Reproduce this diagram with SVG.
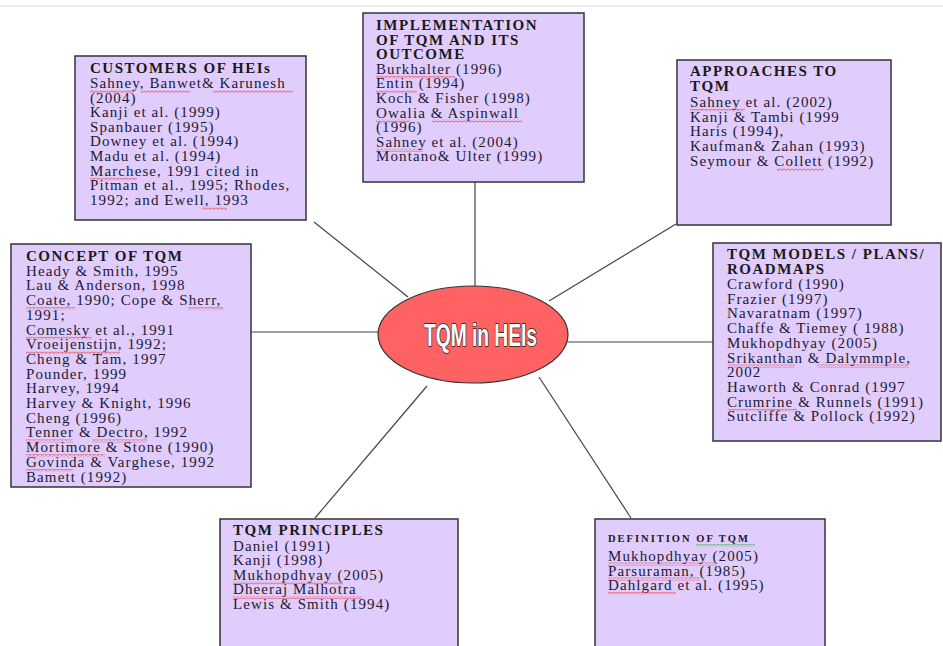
<svg xmlns="http://www.w3.org/2000/svg" width="943" height="646" viewBox="0 0 943 646">
<style>
.box{fill:#e1cdfd;stroke:#333;stroke-width:1.5}
.t{font-family:"Liberation Serif","Times New Roman",serif;font-size:15px;letter-spacing:1.1px;fill:#1c1a33}
.h{font-family:"Liberation Serif","Times New Roman",serif;font-size:15px;font-weight:bold;letter-spacing:1.5px;fill:#1a1a1a}
.hs{font-family:"Liberation Serif","Times New Roman",serif;font-size:10.5px;font-weight:bold;letter-spacing:2px;fill:#1a1a1a}
.sq{fill:url(#wave)}
.sg{fill:url(#waveg)}
.c{stroke:#444;stroke-width:1.2;fill:none}
</style>
<defs>
<pattern id="wave" width="4" height="3" patternUnits="userSpaceOnUse">
<path d="M0,0.5 L2,2.5 L4,0.5" stroke="#e02020" stroke-width="0.8" fill="none"/>
</pattern>
<pattern id="waveg" width="4" height="3" patternUnits="userSpaceOnUse">
<path d="M0,0.5 L2,2.5 L4,0.5" stroke="#20a020" stroke-width="0.8" fill="none"/>
</pattern>
</defs>
<rect width="943" height="646" fill="#fff"/>
<line x1="0" y1="6" x2="943" y2="6" stroke="#d8d8d8" stroke-width="1"/>

<g id="connectors">
<line class="c" x1="314" y1="222" x2="408" y2="297"/>
<line class="c" x1="475" y1="182" x2="475" y2="286"/>
<line class="c" x1="676" y1="224" x2="549" y2="301"/>
<line class="c" x1="251" y1="332" x2="378" y2="332"/>
<line class="c" x1="567" y1="342" x2="713" y2="342"/>
<line class="c" x1="427" y1="386" x2="315" y2="518"/>
<line class="c" x1="539" y1="377" x2="631" y2="518"/>
</g>

<g id="customers">
<rect class="box" x="75" y="56" width="231" height="164"/>
<text class="h" x="90" y="73">CUSTOMERS OF HEIs</text>
<text class="t" x="90" y="88">Sahney, Banwet&amp; Karunesh</text>
<text class="t" x="90" y="102.6">(2004)</text>
<text class="t" x="90" y="117.2">Kanji et al. (1999)</text>
<text class="t" x="90" y="131.8">Spanbauer (1995)</text>
<text class="t" x="90" y="146.4">Downey et al. (1994)</text>
<text class="t" x="90" y="161">Madu et al. (1994)</text>
<text class="t" x="90" y="175.6">Marchese, 1991 cited in</text>
<text class="t" x="90" y="190.2">Pitman et al., 1995; Rhodes,</text>
<text class="t" x="90" y="204.8">1992; and Ewell, 1993</text>
<rect class="sq" x="90" y="90" width="44" height="3"/>
<rect class="sq" x="141" y="90" width="49" height="3"/>
<rect class="sq" x="213" y="90" width="80" height="3"/>
<rect class="sq" x="90" y="177.6" width="47" height="3"/>
<rect class="sq" x="202" y="206.8" width="25" height="3"/>
</g>

<g id="implementation">
<rect class="box" x="363" y="13" width="221" height="169"/>
<text class="h" x="376" y="30">IMPLEMENTATION</text>
<text class="h" x="376" y="44.6">OF TQM AND ITS</text>
<text class="h" x="376" y="59.2">OUTCOME</text>
<text class="t" x="376" y="73.8">Burkhalter (1996)</text>
<text class="t" x="376" y="88.4">Entin (1994)</text>
<text class="t" x="376" y="103">Koch &amp; Fisher (1998)</text>
<text class="t" x="376" y="117.6">Owalia &amp; Aspinwall</text>
<text class="t" x="376" y="132.2">(1996)</text>
<text class="t" x="376" y="146.8">Sahney et al. (2004)</text>
<text class="t" x="376" y="161.4">Montano&amp; Ulter (1999)</text>
<rect class="sq" x="376" y="75.8" width="79" height="3"/>
<rect class="sq" x="376" y="90.4" width="41" height="3"/>
<rect class="sq" x="376" y="119.6" width="34" height="3"/>
<rect class="sq" x="432" y="119.6" width="90" height="3"/>
<rect class="sq" x="376" y="148.8" width="47" height="3"/>
</g>

<g id="approaches">
<rect class="box" x="677" y="60" width="214" height="165"/>
<text class="h" x="690" y="76">APPROACHES TO</text>
<text class="h" x="690" y="91">TQM</text>
<text class="t" x="690" y="106.5">Sahney et al. (2002)</text>
<text class="t" x="690" y="121.5">Kanji &amp; Tambi (1999</text>
<text class="t" x="690" y="136.3">Haris (1994),</text>
<text class="t" x="690" y="151.1">Kaufman&amp; Zahan (1993)</text>
<text class="t" x="690" y="165.9">Seymour &amp; Collett (1992)</text>
<rect class="sq" x="690" y="108.5" width="55" height="3"/>
<rect class="sq" x="777" y="167.9" width="47" height="3"/>
</g>

<g id="concept">
<rect class="box" x="11" y="244" width="240" height="243"/>
<text class="h" x="26" y="261">CONCEPT OF  TQM</text>
<text class="t" x="26" y="275.7">Heady &amp; Smith, 1995</text>
<text class="t" x="26" y="290.4">Lau &amp; Anderson, 1998</text>
<text class="t" x="26" y="305.1">Coate, 1990; Cope &amp; Sherr,</text>
<text class="t" x="26" y="319.8">1991;</text>
<text class="t" x="26" y="334.5">Comesky et al., 1991</text>
<text class="t" x="26" y="349.2">Vroeijenstijn, 1992;</text>
<text class="t" x="26" y="363.9"> Cheng &amp; Tam, 1997</text>
<text class="t" x="26" y="378.6">Pounder, 1999</text>
<text class="t" x="26" y="393.3">Harvey, 1994</text>
<text class="t" x="26" y="408">Harvey &amp; Knight, 1996</text>
<text class="t" x="26" y="422.7">Cheng (1996)</text>
<text class="t" x="26" y="437.4">Tenner &amp; Dectro, 1992</text>
<text class="t" x="26" y="452.1">Mortimore &amp; Stone (1990)</text>
<text class="t" x="26" y="466.8">Govinda &amp; Varghese, 1992</text>
<text class="t" x="26" y="481.5">Bamett (1992)</text>
<rect class="sq" x="26" y="307.1" width="49" height="3"/>
<rect class="sq" x="188" y="307.1" width="35" height="3"/>
<rect class="sq" x="26" y="336.5" width="66" height="3"/>
<rect class="sq" x="26" y="351.2" width="94" height="3"/>
<rect class="sq" x="26" y="439.4" width="47" height="3"/>
<rect class="sq" x="92" y="439.4" width="55" height="3"/>
<rect class="sq" x="26" y="454.1" width="79" height="3"/>
<rect class="sq" x="26" y="468.8" width="47" height="3"/>
</g>

<g id="models">
<rect class="box" x="713" y="243" width="228" height="198"/>
<text class="h" x="727" y="259">TQM MODELS / PLANS/</text>
<text class="h" x="727" y="274">ROADMAPS</text>
<text class="t" x="727" y="289">Crawford (1990)</text>
<text class="t" x="727" y="303.7">Frazier (1997)</text>
<text class="t" x="727" y="318.4"> Navaratnam (1997)</text>
<text class="t" x="727" y="333.1">Chaffe &amp; Tiemey ( 1988)</text>
<text class="t" x="727" y="347.8">Mukhopdhyay (2005)</text>
<text class="t" x="727" y="362.5">Srikanthan &amp; Dalymmple,</text>
<text class="t" x="727" y="377.2">2002</text>
<text class="t" x="727" y="391.9">Haworth &amp; Conrad (1997</text>
<text class="t" x="727" y="406.6">Crumrine &amp; Runnels (1991)</text>
<text class="t" x="727" y="421.3">Sutcliffe &amp; Pollock (1992)</text>
<rect class="sq" x="728" y="364.5" width="67" height="3"/>
<rect class="sq" x="817" y="364.5" width="92" height="3"/>
<rect class="sq" x="728" y="408.6" width="69" height="3"/>
</g>

<g id="principles">
<rect class="box" x="220" y="519" width="238" height="140"/>
<text class="h" x="233" y="535">TQM PRINCIPLES</text>
<text class="t" x="233" y="550.5">Daniel (1991)</text>
<text class="t" x="233" y="565">Kanji (1998)</text>
<text class="t" x="233" y="579.5">Mukhopdhyay (2005)</text>
<text class="t" x="233" y="594">Dheeraj Malhotra</text>
<text class="t" x="233" y="608.5">Lewis &amp; Smith (1994)</text>
<rect class="sq" x="233" y="581.5" width="110" height="3"/>
<rect class="sq" x="233" y="596" width="129" height="3"/>
</g>

<g id="definition">
<rect class="box" x="595" y="519" width="230" height="140"/>
<text class="hs" x="608" y="542">DEFINITION OF  TQM</text>
<text class="t" x="608" y="560.5">Mukhopdhyay (2005)</text>
<text class="t" x="608" y="575.5">Parsuraman, (1985)</text>
<text class="t" x="608" y="590">Dahlgard et al. (1995)</text>
<rect class="sg" x="696" y="544" width="59" height="3"/>
<rect class="sq" x="608" y="562.5" width="108" height="3"/>
<rect class="sq" x="608" y="577.5" width="92" height="3"/>
<rect class="sq" x="608" y="592" width="68" height="3"/>
</g>

<g id="center">
<ellipse cx="473" cy="334.5" rx="95" ry="48.5" fill="#ff6262" stroke="#333" stroke-width="1.2"/>
<text x="424" y="346" textLength="113" lengthAdjust="spacingAndGlyphs" font-family="'Liberation Sans',Arial,sans-serif" font-size="31" font-weight="bold" fill="#fff" stroke="#1a1a1a" stroke-width="1.6" paint-order="stroke" stroke-linejoin="round">TQM in HEIs</text>
</g>
</svg>
